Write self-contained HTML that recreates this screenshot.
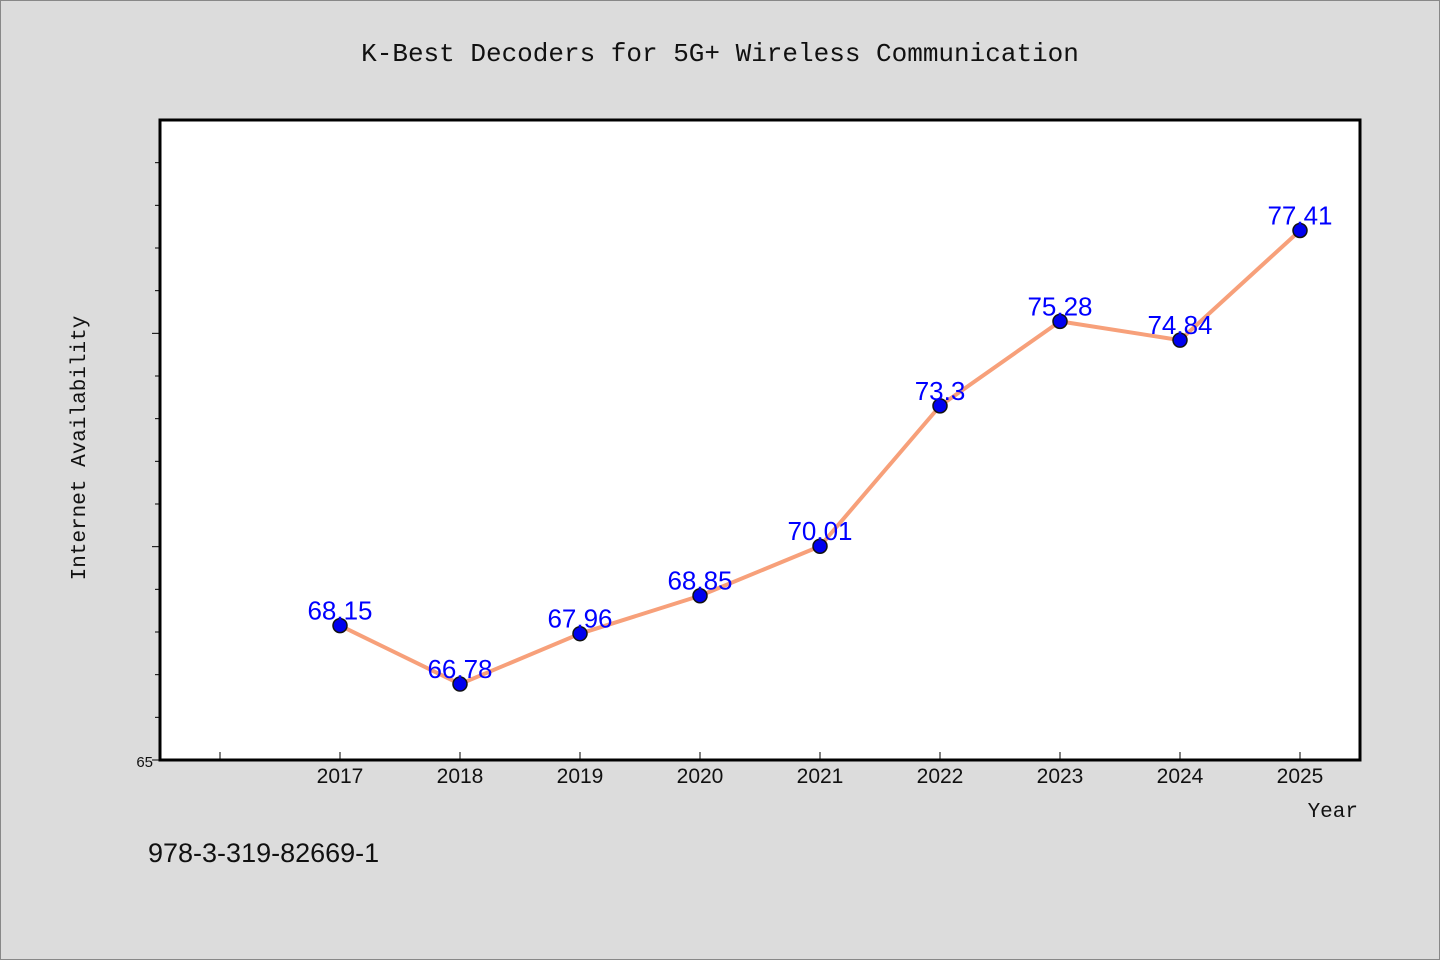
<!DOCTYPE html>
<html><head><meta charset="utf-8"><style>
body{margin:0;background:#dcdcdc;}
svg{display:block;}
</style></head><body>
<svg width="1440" height="960" xmlns="http://www.w3.org/2000/svg">
<rect x="0.5" y="0.5" width="1439" height="959" fill="#dcdcdc" stroke="#888"/>
<text x="720" y="61" text-anchor="middle" font-family="'Liberation Mono','WenQuanYi Zen Hei',monospace" font-size="26" fill="#111">K-Best Decoders for 5G+ Wireless Communication</text>
<rect x="160" y="120" width="1200" height="640" fill="#fff" stroke="#000" stroke-width="3"/>
<g id="yticks"></g>
<g id="xticks"></g>
<text x="85" y="448" transform="rotate(-90 85 448)" text-anchor="middle" font-family="'Liberation Mono','WenQuanYi Zen Hei',monospace" font-size="21" fill="#111">Internet Availability</text>
<text x="1358" y="817" text-anchor="end" font-family="'Liberation Mono','WenQuanYi Zen Hei',monospace" font-size="21" fill="#111">Year</text>
<text x="148" y="862" font-family="'Liberation Sans','WenQuanYi Zen Hei',sans-serif" font-size="27" fill="#111">978-3-319-82669-1</text>
<g id="series"></g>
</svg>
<script>
const years=[2017,2018,2019,2020,2021,2022,2023,2024,2025];
const values=[68.15,66.78,67.96,68.85,70.01,73.3,75.28,74.84,77.41];
const valueLabels=["68.15","66.78","67.96","68.85","70.01","73.3","75.28","74.84","77.41"];
const NS="http://www.w3.org/2000/svg";
const xS=v=>160+(v-2015.5)*120;
const yS=v=>760-(v-65)*(640/15);
function mk(t,a,p){const e=document.createElementNS(NS,t);for(const k in a)e.setAttribute(k,a[k]);p.appendChild(e);return e;}
const yg=document.getElementById('yticks');
for(let v=65;v<=79;v++){const y=yS(v);const len=(v%5===0)?8:5;
const l=mk('line',{x1:160,x2:160-len,y1:y,y2:y,stroke:'#000','stroke-width':1},yg);
}
const yl=mk('text',{x:153,y:767,'text-anchor':'end','font-family':"'Liberation Sans',sans-serif",'font-size':15,fill:'#111'},yg);
yl.textContent='65';
const xg=document.getElementById('xticks');
const tks=[2016].concat(years);
tks.forEach(v=>{const x=xS(v);
const l=mk('line',{x1:x,x2:x,y1:760,y2:752,stroke:'#000','stroke-width':1},xg);

if(v>=2017){const t=mk('text',{x:x,y:783,'text-anchor':'middle','font-family':"'Liberation Sans',sans-serif",'font-size':21,fill:'#111'},xg);
t.textContent=v;}});
const sg=document.getElementById('series');
const pts=years.map((y,i)=>xS(y)+','+yS(values[i])).join(' ');
const pl=mk('polyline',{points:pts,fill:'none',stroke:'#f7a07a','stroke-width':4,'stroke-linejoin':'round'},sg);

years.forEach((y,i)=>{const c=mk('circle',{cx:xS(y),cy:yS(values[i]),r:7,fill:'#0000ee',stroke:'#111','stroke-width':1.5},sg);
});
years.forEach((y,i)=>{const t=mk('text',{x:xS(y),y:yS(values[i])-6,'text-anchor':'middle','font-family':"'Liberation Sans',sans-serif",'font-size':26,fill:'#0000ff'},sg);
t.textContent=valueLabels[i];});
</script>
</body></html>
